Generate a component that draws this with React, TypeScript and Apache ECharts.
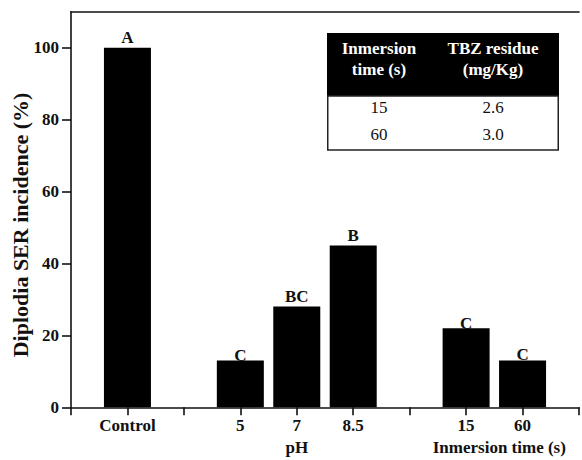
import React, { useEffect, useRef } from "react";
import * as echarts from "echarts";

const categories = ["", "Control", "", "5", "7", "8.5", "", "15", "60", ""];
const incidence = [null, 100, null, 13, 28, 45, null, 22, 13, null];
const letters = ["", "A", "", "C", "BC", "B", "", "C", "C", ""];
const yTicks = [0, 20, 40, 60, 80, 100];
const groupUnder = { "7": "pH" };
const spanGroupLabel = "Inmersion time (s)";
const spanGroupFrom = "15";
const spanGroupTo = "60";
const yAxisTitle = "Diplodia SER incidence (%)";
const tableHeader = ["Inmersion\ntime (s)", "TBZ residue\n(mg/Kg)"];
const tableRows = [
  ["15", "2.6"],
  ["60", "3.0"],
];

const FONT = "'Liberation Serif', 'Times New Roman', serif";

export default function App() {
  const ref = useRef<HTMLDivElement>(null);
  useEffect(() => {
    if (!ref.current) return;
    const chart = echarts.init(ref.current, null, { renderer: "svg" });
    const labelDist = [0, 2, 0, -3, 2, 1, 0, -4, -2, 0];
    const option: any = {
      animation: false,
      backgroundColor: "#fff",
      grid: { left: 71, top: 11.7, bottom: 52.7, right: -8.75, containLabel: false },
      xAxis: [
        {
          type: "category",
          data: categories,
          boundaryGap: false,
          axisLine: { show: true, lineStyle: { color: "#111", width: 1.6 } },
          axisTick: { show: true, interval: 0, length: 8, lineStyle: { color: "#111", width: 1.6 } },
          axisLabel: {
            interval: 0,
            margin: 7,
            color: "#111",
            fontFamily: FONT,
            fontWeight: "bold",
            fontSize: 17,
            lineHeight: 22,
            formatter: (v: string) => ((groupUnder as any)[v] ? v + "\n" + (groupUnder as any)[v] : v),
          },
          splitLine: { show: false },
        },
        {
          type: "category",
          position: "top",
          data: categories,
          boundaryGap: false,
          axisLine: { show: true, lineStyle: { color: "#111", width: 1.6 } },
          axisTick: { show: false },
          axisLabel: { show: false },
          splitLine: { show: false },
        },
      ],
      yAxis: {
        type: "value",
        min: 0,
        max: 110,
        interval: 10,
        axisLine: { show: true, lineStyle: { color: "#111", width: 1.6 } },
        axisTick: { show: true, length: 9, customValues: yTicks, lineStyle: { color: "#111", width: 1.6 } },
        axisLabel: {
          customValues: yTicks,
          margin: 12,
          color: "#111",
          fontFamily: FONT,
          fontWeight: "bold",
          fontSize: 17,
        },
        splitLine: { show: false },
      },
      series: [
        {
          type: "bar",
          barWidth: 47,
          itemStyle: { color: "#000" },
          data: incidence.map((v, i) =>
            v == null
              ? "-"
              : {
                  value: v,
                  label: {
                    show: true,
                    position: "top",
                    distance: labelDist[i],
                    formatter: letters[i],
                    color: "#111",
                    fontFamily: FONT,
                    fontWeight: "bold",
                    fontSize: 17,
                  },
                }
          ),
        },
      ],
    };
    chart.setOption(option);

    const p1 = chart.convertToPixel({ xAxisIndex: 0 }, spanGroupFrom) as number;
    const p2 = chart.convertToPixel({ xAxisIndex: 0 }, spanGroupTo) as number;
    const tX = 327;
    const tY = 33;
    const tW = 232;
    const hH = 63;
    const rH = 27;
    const colX = [52, 166];
    const elements: any[] = [
      {
        type: "text",
        x: 20,
        y: 225,
        rotation: Math.PI / 2,
        style: {
          text: yAxisTitle,
          fontFamily: FONT,
          fontWeight: "bold",
          fontSize: 22,
          fill: "#111",
          align: "center",
          verticalAlign: "middle",
        },
      },
      {
        type: "text",
        x: (p1 + p2) / 2 + 5,
        y: 447,
        style: {
          text: spanGroupLabel,
          fontFamily: FONT,
          fontWeight: "bold",
          fontSize: 17,
          fill: "#111",
          align: "center",
          verticalAlign: "middle",
        },
      },
      {
        type: "group",
        x: tX,
        y: tY,
        children: [
          { type: "rect", shape: { x: 0, y: 0, width: tW, height: hH }, style: { fill: "#000" } },
          {
            type: "rect",
            shape: { x: 0.75, y: hH, width: tW - 1.5, height: rH * tableRows.length },
            style: { fill: "#fff", stroke: "#222", lineWidth: 1.5 },
          },
          ...tableHeader.map((h, c) => ({
            type: "text",
            x: colX[c],
            y: hH / 2 - 6,
            style: {
              text: h,
              fontFamily: FONT,
              fontWeight: "bold",
              fontSize: 17,
              lineHeight: 21,
              fill: "#fff",
              align: "center",
              verticalAlign: "middle",
            },
          })),
          ...tableRows.flatMap((row, r) =>
            row.map((cell, c) => ({
              type: "text",
              x: colX[c],
              y: hH + rH * r + 11.5,
              style: {
                text: cell,
                fontFamily: FONT,
                fontSize: 17,
                fill: "#111",
                align: "center",
                verticalAlign: "middle",
              },
            }))
          ),
        ],
      },
    ];
    chart.setOption({ graphic: { elements } });
    return () => chart.dispose();
  }, []);
  return (
    <div
      ref={ref}
      style={{ position: "fixed", left: 0, top: 0, width: 582, height: 460, background: "#fff" }}
    />
  );
}
